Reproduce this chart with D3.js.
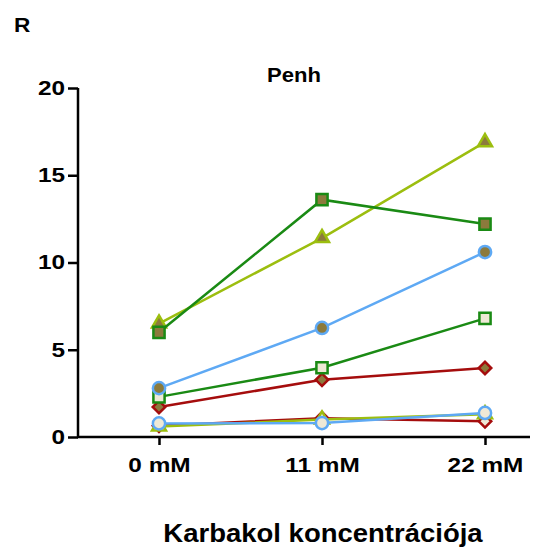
<!DOCTYPE html>
<html>
<head>
<meta charset="utf-8">
<script src="https://cdn.jsdelivr.net/npm/d3@7"></script>
<style>
  html, body { margin: 0; padding: 0; background: #fff; }
  text { font-family: "Liberation Sans", Arial, sans-serif; font-weight: bold; fill: #000; }
</style>
</head>
<body>
<svg id="chart" width="543" height="549"></svg>
<script>
// Carbachol doses on the x axis
const doses = ["0 mM", "11 mM", "22 mM"];
const yTicks = [0, 5, 10, 15, 20];

// Penh per animal at each dose
const triFilled   = [6.5, 11.4, 16.9];
const sqFilled    = [6.0, 13.6, 12.2];
const circFilled  = [2.8, 6.25, 10.6];
const sqOpen      = [2.3, 3.97, 6.8];
const diaFilled   = [1.72, 3.28, 3.95];
const diaOpen     = [0.65, 1.08, 0.9];
const triOpen     = [0.6, 1.0, 1.3];
const circOpen    = [0.78, 0.8, 1.38];

const series = [
  { values: diaOpen,    color: "#a50d0d", shape: "diamond",  filled: false },
  { values: triOpen,    color: "#9cbe0f", shape: "triangle", filled: false },
  { values: circOpen,   color: "#5ea9f4", shape: "circle",   filled: false },
  { values: diaFilled,  color: "#a50d0d", shape: "diamond",  filled: true },
  { values: sqOpen,     color: "#1a8a14", shape: "square",   filled: false },
  { values: circFilled, color: "#5ea9f4", shape: "circle",   filled: true },
  { values: triFilled,  color: "#9cbe0f", shape: "triangle", filled: true },
  { values: sqFilled,   color: "#1a8a14", shape: "square",   filled: true }
];

const FILL_SOLID = "#8c7a3c";
const FILL_OPEN = "#efe9d6";
const WIDE = 1.16; // horizontal stretch of the bold lettering

const svg = d3.select("#chart");

const x = d3.scalePoint().domain(doses).range([159, 485]);
const y = d3.scaleLinear().domain([0, 20]).range([437, 88]);

// Y axis
const yAxis = svg.append("g").attr("transform", "translate(78,0)")
  .call(d3.axisLeft(y).tickValues(yTicks).tickSize(10).tickPadding(4));
yAxis.select(".domain").attr("stroke-width", 2.5).attr("d", "M0,437V88");
yAxis.selectAll(".tick line").attr("stroke-width", 2.5);
yAxis.selectAll(".tick text")
  .style("font-size", "21px")
  .attr("x", 0)
  .attr("dy", "0.3em")
  .attr("transform", `translate(-13,0) scale(${WIDE},1)`);

// X axis
const xAxis = svg.append("g").attr("transform", "translate(0,437)")
  .call(d3.axisBottom(x).tickSize(8).tickPadding(6));
xAxis.select(".domain").attr("stroke-width", 2.5).attr("d", "M77,0H530");
xAxis.selectAll(".tick line").attr("stroke-width", 2.5);
xAxis.selectAll(".tick text")
  .style("font-size", "21px")
  .attr("y", 35)
  .attr("dy", 0)
  .attr("transform", `scale(${WIDE},1)`);

const line = d3.line().x((d, i) => x(doses[i])).y(d => y(d));

const symbolFor = {
  circle:   d3.symbol().type(d3.symbolCircle).size(118),
  square:   d3.symbol().type(d3.symbolSquare).size(125),
  triangle: d3.symbol().type(d3.symbolTriangle).size(85),
  diamond:  d3.symbol().type(d3.symbolSquare).size(78)
};

const groups = svg.append("g").selectAll("g.series").data(series).join("g").attr("class", "series");

groups.append("path")
  .attr("d", s => line(s.values))
  .attr("fill", "none")
  .attr("stroke", s => s.color)
  .attr("stroke-width", 2.5);

groups.each(function(s) {
  d3.select(this).selectAll("path.pt").data(s.values).join("path")
    .attr("class", "pt")
    .attr("transform", (d, i) => `translate(${x(doses[i])},${y(d)})` + (s.shape === "diamond" ? " rotate(45)" : ""))
    .attr("d", symbolFor[s.shape]())
    .attr("fill", s.filled ? FILL_SOLID : FILL_OPEN)
    .attr("stroke", s.color)
    .attr("stroke-width", 2.5);
});

// Titles
svg.append("text").attr("transform", "translate(14,32) scale(1.08,1)").style("font-size", "21px").text("R");
svg.append("text").attr("transform", "translate(294,82) scale(1.05,1)").attr("text-anchor", "middle")
  .style("font-size", "21px").text("Penh");
svg.append("text").attr("transform", "translate(323,542) scale(1.1,1)").attr("text-anchor", "middle")
  .style("font-size", "25px").text("Karbakol koncentrációja");
</script>
</body>
</html>
